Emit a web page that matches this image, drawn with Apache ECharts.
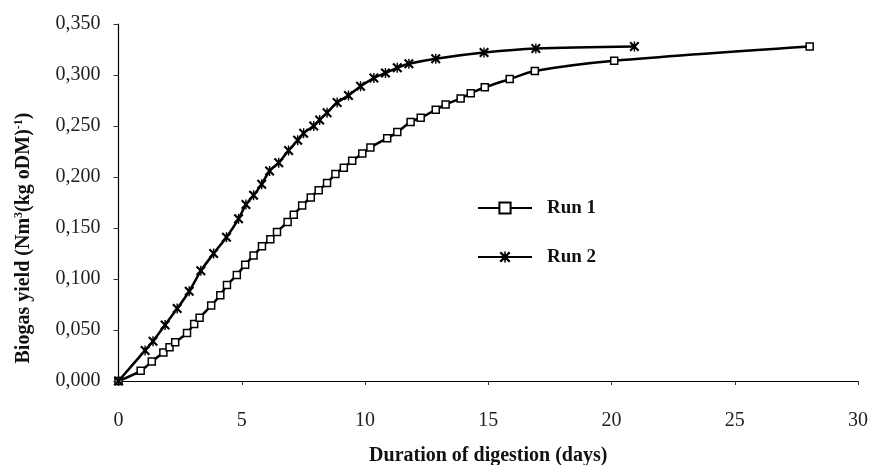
<!DOCTYPE html>
<html>
<head>
<meta charset="utf-8">
<script src="https://cdn.jsdelivr.net/npm/echarts@6/dist/echarts.min.js"></script>
<style>
  html, body { margin: 0; padding: 0; background: #fff; }
  #chart { width: 869px; height: 465px; }
</style>
</head>
<body>
<div id="chart"></div>
<script>
const run1Days = [0, 0.90, 1.35, 1.82, 2.07, 2.30, 2.78, 3.07, 3.29, 3.76, 4.13, 4.40, 4.80, 5.14, 5.48, 5.82,
    6.16, 6.43, 6.86, 7.11, 7.45, 7.80, 8.12, 8.46, 8.80, 9.14, 9.48, 9.89, 10.22, 10.90, 11.31, 11.85,
    12.26, 12.87, 13.27, 13.88, 14.29, 14.86, 15.87, 16.89, 20.11, 28.04];
const run1Yield = [0, 0.010, 0.019, 0.028, 0.033, 0.038, 0.047, 0.056, 0.062, 0.074, 0.084, 0.094, 0.104, 0.114, 0.123, 0.132,
    0.139, 0.146, 0.156, 0.163, 0.172, 0.180, 0.187, 0.194, 0.203, 0.209, 0.216, 0.223, 0.229, 0.238, 0.244, 0.254,
    0.258, 0.266, 0.271, 0.277, 0.282, 0.288, 0.296, 0.304, 0.314, 0.328];

const run2Days = [0, 1.08, 1.40, 1.89, 2.38, 2.87, 3.34, 3.86, 4.38, 4.87, 5.17, 5.48, 5.81, 6.13, 6.50, 6.90,
    7.27, 7.51, 7.92, 8.16, 8.46, 8.87, 9.33, 9.82, 10.36, 10.83, 11.31, 11.78, 12.87, 14.83, 16.93, 20.93];
const run2Yield = [0, 0.030, 0.039, 0.055, 0.071, 0.088, 0.108, 0.125, 0.141, 0.159, 0.173, 0.182, 0.193, 0.206, 0.214, 0.226,
    0.236, 0.243, 0.250, 0.256, 0.263, 0.273, 0.280, 0.289, 0.297, 0.302, 0.307, 0.311, 0.316, 0.322, 0.326, 0.328];

const seriesNames = ['Run 1', 'Run 2'];

const serif = '"Liberation Serif", "DejaVu Serif", serif';
// asterisk-like marker: an X with a vertical bar
const starPath = 'path://M0,1.5 L1.5,0 L5,3.5 L8.5,0 L10,1.5 L6.5,5 L10,8.5 L8.5,10 L5,6.5 L1.5,10 L0,8.5 L3.5,5 Z M4.3,0 L5.7,0 L5.7,10 L4.3,10 Z';

let chart = echarts.init(document.getElementById('chart'));

let option = {
    backgroundColor: '#fff',
    animation: false,
    grid: { left: 118.5, right: 11, top: 24, bottom: 84, containLabel: false, outerBoundsMode: 'none' },
    legend: {
        orient: 'vertical',
        left: 472,
        top: 193,
        itemWidth: 54,
        itemHeight: 14,
        itemGap: 29,
        textStyle: { fontFamily: serif, fontWeight: 'bold', fontSize: 19, lineHeight: 20, color: '#111', padding: [0, 0, 0, 10] },
        data: seriesNames
    },
    xAxis: {
        type: 'value',
        min: 0,
        max: 30,
        interval: 5,
        name: 'Duration of digestion (days)',
        nameLocation: 'middle',
        nameGap: 65,
        nameTextStyle: { fontFamily: serif, fontWeight: 'bold', fontSize: 20, color: '#111' },
        axisLine: { lineStyle: { color: '#000', width: 1.2 } },
        axisTick: { show: true, length: 4, lineStyle: { color: '#333' } },
        axisLabel: { margin: 30, fontFamily: serif, fontSize: 20, color: '#222' },
        splitLine: { show: false }
    },
    yAxis: {
        type: 'value',
        min: 0,
        max: 0.35,
        interval: 0.05,
        axisLine: { show: true, lineStyle: { color: '#000', width: 1.2 } },
        axisTick: { show: true, length: 5, lineStyle: { color: '#333' } },
        axisLabel: {
            margin: 18,
            fontFamily: serif,
            fontSize: 20,
            color: '#222',
            formatter: v => v.toFixed(3).replace('.', ',')
        },
        splitLine: { show: false }
    },
    graphic: [{
        type: 'text',
        x: 24,
        y: 238,
        rotation: Math.PI / 2,
        style: {
            text: '{b|Biogas yield (Nm}{s|3}{b|(kg oDM)}{s|-1}{b|)}',
            align: 'center',
            verticalAlign: 'middle',
            rich: {
                b: { fontFamily: serif, fontWeight: 'bold', fontSize: 20, fill: '#111' },
                s: { fontFamily: serif, fontWeight: 'bold', fontSize: 12, fill: '#111', padding: [0, 0, 10, 0] }
            }
        }
    }],
    series: [
        {
            name: seriesNames[0],
            type: 'line',
            smooth: 0.3,
            symbol: 'rect',
            symbolSize: 7,
            data: run1Days.map((d, i) => [d, run1Yield[i]]),
            lineStyle: { color: '#000', width: 2.5 },
            itemStyle: { color: '#fff', borderColor: '#000', borderWidth: 1.5 },
            z: 2
        },
        {
            name: seriesNames[1],
            type: 'line',
            smooth: 0.3,
            symbol: starPath,
            symbolSize: 10,
            data: run2Days.map((d, i) => [d, run2Yield[i]]),
            lineStyle: { color: '#000', width: 2.5 },
            itemStyle: { color: '#000' },
            z: 3
        }
    ]
};

option && chart.setOption(option);
</script>
</body>
</html>
